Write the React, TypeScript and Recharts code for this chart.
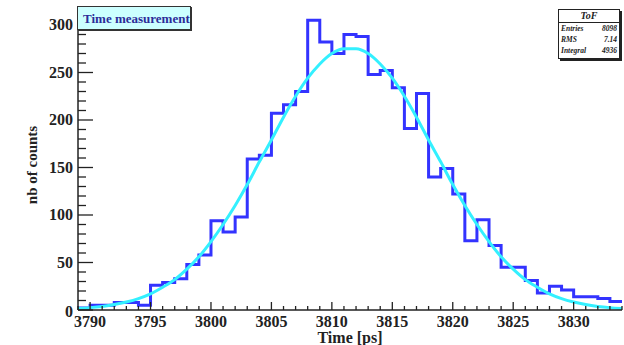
import { LineChart, Line, XAxis, YAxis } from "recharts";

// bin low edges (ps), last entry closes the final bin
const times = [
  3789, 3790, 3791, 3792, 3793, 3794, 3795, 3796, 3797, 3798, 3799, 3800, 3801, 3802, 3803, 3804,
  3805, 3806, 3807, 3808, 3809, 3810, 3811, 3812, 3813, 3814, 3815, 3816, 3817, 3818, 3819, 3820,
  3821, 3822, 3823, 3824, 3825, 3826, 3827, 3828, 3829, 3830, 3831, 3832, 3833, 3834,
];

// histogram contents, one per 1 ps bin
const counts = [
  2, 5, 5, 8, 8, 5, 26, 29, 33, 48, 58, 94, 82, 98, 159, 163, 207, 216, 230, 305, 282, 270, 290,
  288, 248, 252, 234, 191, 228, 140, 149, 122, 73, 95, 68, 45, 45, 31, 18, 25, 21, 14, 14, 12, 9,
];

// fitted curve read at each time
const fitValues = [
  1.6, 2.5, 3.8, 5.7, 8.4, 12, 17, 24, 32, 43, 56, 72, 90, 110, 132, 156, 179, 203, 225, 244, 259,
  270, 275, 275, 270, 259, 244, 225, 203, 179, 156, 132, 110, 90, 72, 56, 43, 32, 24, 17, 12, 8.4,
  5.7, 3.8, 2.5, 1.6,
];

const xLabels = [3790, 3795, 3800, 3805, 3810, 3815, 3820, 3825, 3830];
const yLabels = [0, 50, 100, 150, 200, 250, 300];

const stats = [
  { name: "Entries", value: "8098" },
  { name: "RMS", value: "7.14" },
  { name: "Integral", value: "4936" },
];

const xTicks = times.slice();
const yTicks = Array.from({ length: 32 }, (_, i) => i * 10);

const table = times.map((t, i) => ({
  t,
  counts: counts[Math.min(i, counts.length - 1)],
  fit: fitValues[i],
}));

const FONT = "'Liberation Serif', 'DejaVu Serif', serif";

const XTick = ({ x, y, payload }: any) => {
  const v = payload.value;
  const major = xLabels.includes(v);
  return (
    <g>
      <line x1={x} y1={y} x2={x} y2={y - (major ? 8 : 4)} stroke="#222" strokeWidth={1.3} />
      {major && (
        <text x={x} y={y + 17} textAnchor="middle" fontFamily={FONT} fontWeight={700} fontSize={16} fill="#222">
          {v}
        </text>
      )}
    </g>
  );
};

const YTick = ({ x, y, payload }: any) => {
  const v = payload.value;
  const major = yLabels.includes(v);
  return (
    <g>
      <line x1={x} y1={y} x2={x + (major ? 15 : 8)} y2={y} stroke="#222" strokeWidth={1.3} />
      {major && (
        <text x={x - 5} y={y + (v === 0 ? 7 : 5)} textAnchor="end" fontFamily={FONT} fontWeight={700} fontSize={16} fill="#222">
          {v}
        </text>
      )}
    </g>
  );
};

export default function App() {
  return (
    <div style={{ position: "absolute", left: 0, top: 0, width: 624, height: 345, background: "#fff", fontFamily: FONT }}>
      <LineChart width={624} height={345} data={table} margin={{ top: 6, right: 2, bottom: 0, left: 8 }}>
        <XAxis
          dataKey="t"
          type="number"
          domain={[3789, 3834]}
          ticks={xTicks}
          interval={0}
          height={35}
          tickSize={0}
          tickMargin={0}
          tickLine={false}
          tick={<XTick />}
          axisLine={{ stroke: "#222", strokeWidth: 1.5 }}
          allowDataOverflow
        />
        <YAxis
          type="number"
          domain={[0, 320]}
          ticks={yTicks}
          interval={0}
          width={70}
          tickSize={0}
          tickMargin={0}
          tickLine={false}
          tick={<YTick />}
          axisLine={{ stroke: "#222", strokeWidth: 1.5 }}
          allowDataOverflow
        />
        <Line
          dataKey="counts"
          type="stepAfter"
          stroke="#3333ff"
          strokeWidth={3}
          dot={false}
          activeDot={false}
          isAnimationActive={false}
        />
        <Line
          dataKey="fit"
          type="monotone"
          stroke="#33f0ff"
          strokeWidth={3}
          dot={false}
          activeDot={false}
          isAnimationActive={false}
        />
      </LineChart>

      <div
        style={{
          position: "absolute",
          left: 6,
          top: 165,
          transform: "translate(0, -50%) rotate(-90deg)",
          transformOrigin: "center",
          width: 52,
          textAlign: "center",
          whiteSpace: "nowrap",
          fontWeight: 700,
          fontSize: 15,
          color: "#222",
          display: "flex",
          justifyContent: "center",
        }}
      >
        nb of counts
      </div>

      <div
        style={{
          position: "absolute",
          left: 0,
          width: 700,
          top: 330,
          textAlign: "center",
          fontWeight: 700,
          fontSize: 16,
          color: "#222",
          lineHeight: "16px",
        }}
      >
        Time [ps]
      </div>

      <div
        style={{
          position: "absolute",
          left: 77,
          top: 6,
          width: 114,
          height: 24,
          background: "#ccffff",
          border: "1px solid #333",
          boxShadow: "1px 1px 0 #333",
          fontWeight: 700,
          fontSize: 13,
          color: "#2c2c99",
          lineHeight: "24px",
          paddingLeft: 5,
          boxSizing: "border-box",
          whiteSpace: "nowrap",
        }}
      >
        Time measurement
      </div>

      <div
        style={{
          position: "absolute",
          left: 558,
          top: 9,
          width: 62,
          height: 50,
          background: "#fff",
          border: "1px solid #222",
          boxShadow: "2px 2px 0 #222",
          boxSizing: "border-box",
          fontStyle: "italic",
          fontWeight: 700,
          color: "#222",
        }}
      >
        <div style={{ textAlign: "center", fontSize: 10, lineHeight: "12px", borderBottom: "1px solid #222" }}>ToF</div>
        {stats.map((s) => (
          <div
            key={s.name}
            style={{
              display: "flex",
              justifyContent: "space-between",
              fontSize: 7.5,
              lineHeight: "11px",
              padding: "0 2px",
            }}
          >
            <span>{s.name}</span>
            <span>{s.value}</span>
          </div>
        ))}
      </div>
    </div>
  );
}
